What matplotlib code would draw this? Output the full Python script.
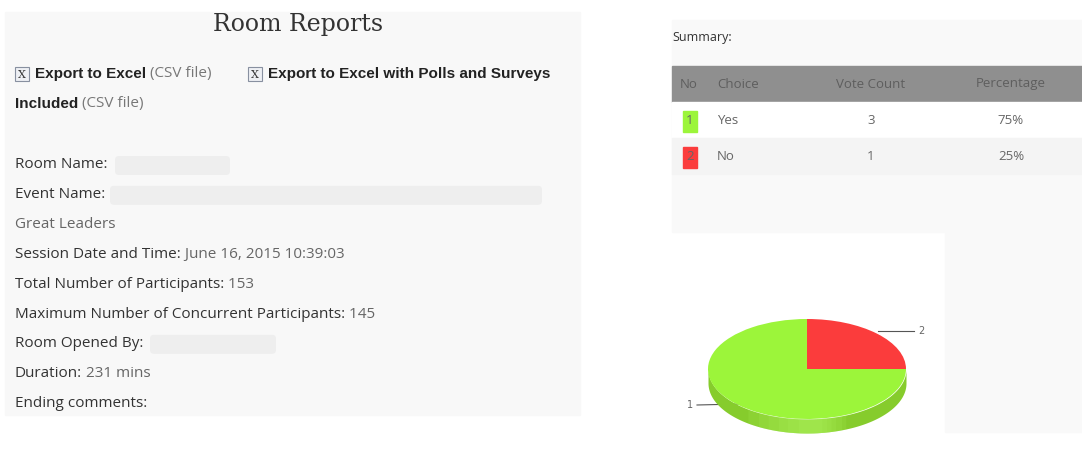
import numpy as np
import matplotlib.pyplot as plt
from matplotlib.patches import Rectangle, FancyBboxPatch

W, H = 1082, 449
choices = ['Yes', 'No']
votes = [3, 1]
percent = ['75%', '25%']
colors = ['#9cf53a', '#fb3c3c']
info = [('Room Name:', ''), ('Event Name:', ''), ('', 'Great Leaders'),
        ('Session Date and Time:', ' June 16, 2015 10:39:03'),
        ('Total Number of Participants:', ' 153'),
        ('Maximum Number of Concurrent Participants:', ' 145'),
        ('Room Opened By:', ''), ('Duration:', ' 231 mins'),
        ('Ending comments:', '')]
blur = {0: (115, 230), 1: (110, 542), 6: (150, 276)}

fig = plt.figure(figsize=(W / 100, H / 100), dpi=100)
ax = fig.add_axes([0, 0, 1, 1])
ax.set_xlim(0, W)
ax.set_ylim(H, 0)
ax.axis('off')
r = fig.canvas.get_renderer()

def runs(x, y, parts, size=11.5):
    # parts: list of (text, weight, color, family)
    for s, wgt, col, fam in parts:
        if not s:
            continue
        t = ax.text(x, y, s, fontsize=size, fontweight=wgt, color=col, family=fam, va='center')
        x += t.get_window_extent(r).width
    return x

# left panel
ax.add_patch(Rectangle((5, 12), 575, 403, color='#f8f8f8', zorder=0))
ax.text(298, 24, 'Room Reports', fontsize=17, family='DejaVu Serif', color='#333', ha='center', va='center')
for bx in (15, 248):
    ax.add_patch(Rectangle((bx, 67), 14, 14, fc='#eef0f4', ec='#8890a0', lw=0.8))
    ax.text(bx + 7, 74.5, 'X', fontsize=8, ha='center', va='center', color='#333', family='DejaVu Serif')
runs(35, 74, [('Export to Excel', 'bold', '#222', 'Liberation Sans'), (' (CSV file)', 'normal', '#777', 'Open Sans')], 11)
runs(268, 74, [('Export to Excel with Polls and Surveys', 'bold', '#222', 'Liberation Sans')], 11)
runs(15, 104, [('Included', 'bold', '#222', 'Liberation Sans'), (' (CSV file)', 'normal', '#777', 'Open Sans')], 11)
for i, (lab, val) in enumerate(info):
    y = 165 + i * 29.8
    if i in blur:
        a, b = blur[i]
        ax.add_patch(FancyBboxPatch((a, y - 9), b - a, 19, boxstyle='round,pad=0,rounding_size=4',
                                    fc='#eeeeee', ec='none'))
    runs(15, y, [(lab, 'normal', '#333', 'Open Sans'), (val, 'normal', '#666', 'Open Sans')], 11)

# summary table
ax.add_patch(Rectangle((672, 20), 410, 212, color='#f9f9f9', zorder=0))
ax.add_patch(Rectangle((945, 232), 137, 200, color='#f9f9f9', zorder=0))
ax.text(672, 37, 'Summary:', fontsize=9, family='Open Sans', color='#333', va='center')
ax.add_patch(Rectangle((672, 66), 410, 36, color='#8f8f8f'))
hdr = [('No', 689, 'center'), ('Choice', 717, 'left'), ('Vote Count', 871, 'center'), ('Percentage', 1011, 'center')]
for s, x, ha in hdr:
    ax.text(x, 84, s, fontsize=9.5, family='Open Sans', color='#5e5e5e', ha=ha, va='center')
for i in range(len(choices)):
    y0 = 102 + 36 * i
    ax.add_patch(Rectangle((672, y0), 410, 36, color='#ffffff' if i == 0 else '#f4f4f4'))
    ax.add_patch(Rectangle((683, y0 + 9), 14, 21, color=colors[i]))
    yc = y0 + 18
    ax.text(690, yc, str(i + 1), fontsize=9.5, family='Open Sans', color='#666', ha='center', va='center')
    ax.text(717, yc, choices[i], fontsize=9.5, family='Open Sans', color='#666', va='center')
    ax.text(871, yc, str(votes[i]), fontsize=9.5, family='Open Sans', color='#666', ha='center', va='center')
    ax.text(1011, yc, percent[i], fontsize=9.5, family='Open Sans', color='#666', ha='center', va='center')

# pie (squashed into ellipse)
depth = 0.28
pax = fig.add_axes([708 / W, 1 - 433 / H, 198 / W, 114 / H])
pax.axis('off')
th = np.linspace(np.pi, 2 * np.pi, 200)
xs = np.cos(th)
side_top = np.sin(th)
pax.fill_between(xs, side_top - depth, side_top, color='#86cc2c', lw=0)
for k, a in enumerate(np.linspace(0.35, 0, 6)):
    pax.fill_between(xs, side_top - depth, side_top, where=(xs > -0.6 + k * 0.1) & (xs < 0.4 - k * 0.05),
                     color='#b8ff6a', alpha=0.12, lw=0)
pax.pie(votes, colors=colors, startangle=90, radius=1, wedgeprops=dict(lw=0))
pax.set_aspect('auto')
pax.set_xlim(-1, 1)
pax.set_ylim(-1 - depth, 1)

ax.plot([697, 740], [405, 404], color='#555', lw=0.8)
ax.text(693, 405, '1', fontsize=7, color='#666', ha='right', va='center')
ax.plot([878, 914], [331, 331], color='#555', lw=0.8)
ax.text(918, 331, '2', fontsize=7, color='#666', ha='left', va='center')

fig.savefig('out.png', dpi=100)
